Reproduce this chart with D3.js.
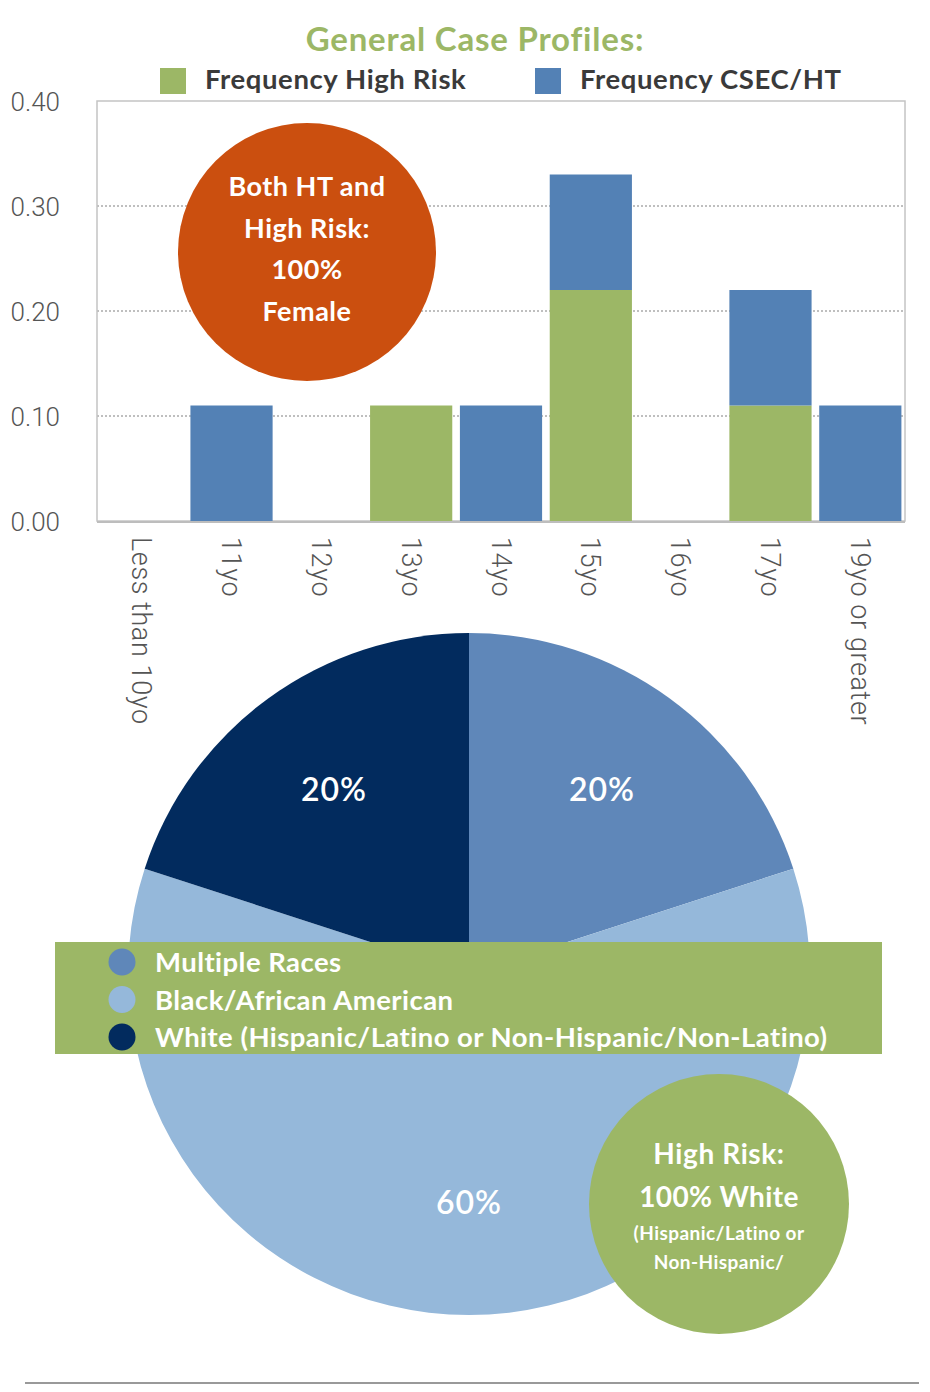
<!DOCTYPE html>
<html>
<head>
<meta charset="utf-8">
<script src="https://cdn.jsdelivr.net/npm/d3@7"></script>
<style>
  body { margin: 0; background: #fff; }
  svg { display: block; }
  .bold { font-family: Lato, "Open Sans", sans-serif; font-weight: 700; }
  .axis text { font-family: Roboto, "Liberation Sans", sans-serif; font-weight: 300; fill: #555; }
</style>
</head>
<body>
<svg width="930" height="1392"></svg>
<script>
// bar chart data
const ages = ['Less than 10yo', '11yo', '12yo', '13yo', '14yo', '15yo', '16yo', '17yo', '19yo or greater'];
const highRisk = [0, 0, 0, 0.11, 0, 0.22, 0, 0.11, 0];
const csecHT = [0, 0.11, 0, 0, 0.11, 0.11, 0, 0.11, 0.11];
const yTicks = [0, 0.1, 0.2, 0.3, 0.4];
const seriesNames = ['Frequency High Risk', 'Frequency CSEC/HT'];

// pie data
const races = ['Multiple Races', 'Black/African American', 'White (Hispanic/Latino or Non-Hispanic/Non-Latino)'];
const raceShare = [20, 60, 20];

const green = '#9cb766', blue = '#5381b5';
const raceColors = ['#5f87b9', '#95b8da', '#022b5e'];

const svg = d3.select('svg');

// title + legend
svg.append('text').attr('class', 'bold')
  .attr('x', 475).attr('y', 51).attr('text-anchor', 'middle')
  .attr('font-size', 33).attr('letter-spacing', 0.8).attr('fill', green)
  .text('General Case Profiles:');

const legX = [160, 535];
seriesNames.forEach((n, i) => {
  svg.append('rect').attr('x', legX[i]).attr('y', 68).attr('width', 26).attr('height', 26)
    .attr('fill', i === 0 ? green : blue);
  svg.append('text').attr('class', 'bold')
    .attr('x', legX[i] + 45).attr('y', 89).attr('font-size', 27.5).attr('letter-spacing', 0.6)
    .attr('fill', '#3a3a3a')
    .text(n);
});

// bar chart
const m = {left: 97, top: 101, right: 905, bottom: 521};
const x = d3.scaleBand().domain(ages).range([m.left, m.right]).paddingInner(0.085).paddingOuter(0.04);
const y = d3.scaleLinear().domain([0, 0.4]).range([m.bottom, m.top]);

// gridlines
svg.append('g').selectAll('line')
  .data(yTicks.slice(1, 4))
  .join('line')
  .attr('x1', m.left).attr('x2', m.right)
  .attr('y1', d => y(d)).attr('y2', d => y(d))
  .attr('stroke', '#aaa').attr('stroke-width', 1.3).attr('stroke-dasharray', '2,2');

svg.append('rect')
  .attr('x', m.left).attr('y', m.top)
  .attr('width', m.right - m.left).attr('height', m.bottom - m.top)
  .attr('fill', 'none').attr('stroke', '#c4c4c4').attr('stroke-width', 1.5);

const rows = ages.map((a, i) => ({age: a, high: highRisk[i], csec: csecHT[i]}));
const stacked = d3.stack().keys(['high', 'csec'])(rows);

svg.append('g').selectAll('g')
  .data(stacked)
  .join('g')
  .attr('fill', (d, i) => i === 0 ? green : blue)
  .selectAll('rect')
  .data(d => d.filter(p => p[1] - p[0] > 0))
  .join('rect')
  .attr('x', d => x(d.data.age))
  .attr('width', x.bandwidth())
  .attr('y', d => y(d[1]))
  .attr('height', d => y(d[0]) - y(d[1]));

svg.append('line')
  .attr('x1', m.left).attr('x2', m.right).attr('y1', m.bottom + 1).attr('y2', m.bottom + 1)
  .attr('stroke', '#bdbdbd').attr('stroke-width', 2);

// y axis
const yAxis = svg.append('g').attr('class', 'axis')
  .attr('transform', `translate(${m.left - 34},0)`)
  .call(d3.axisLeft(y).tickValues(yTicks).tickFormat(d3.format('.2f')).tickSize(0));
yAxis.select('.domain').remove();
yAxis.selectAll('text').attr('font-size', 26).attr('dy', '0.35em').attr('text-anchor', 'end');

// x axis (rotated labels)
const xAxis = svg.append('g').attr('class', 'axis')
  .attr('transform', `translate(0,${m.bottom})`)
  .call(d3.axisBottom(x).tickSize(0));
xAxis.select('.domain').remove();
xAxis.selectAll('text')
  .attr('font-size', 27).attr('letter-spacing', 0.6)
  .attr('transform', 'rotate(90)')
  .attr('x', 16).attr('y', 0).attr('dy', '0.35em')
  .attr('text-anchor', 'start');

// orange callout
const orange = svg.append('g').attr('transform', 'translate(307,252)');
orange.append('circle').attr('r', 129).attr('fill', '#cb4f0f');
['Both HT and', 'High Risk:', '100%', 'Female'].forEach((t, i) => {
  orange.append('text').attr('class', 'bold')
    .attr('y', -56 + i * 41.5).attr('text-anchor', 'middle')
    .attr('font-size', 27).attr('letter-spacing', 0.5).attr('fill', '#fff').text(t);
});

// pie
const cx = 469, cy = 974, R = 341;
const pie = d3.pie().sort(null).value(d => d.v);
const arc = d3.arc().innerRadius(0).outerRadius(R);
const pieData = pie(races.map((r, i) => ({r, v: raceShare[i], c: raceColors[i]})));
const pg = svg.append('g').attr('transform', `translate(${cx},${cy})`);
pg.selectAll('path').data(pieData).join('path')
  .attr('d', arc).attr('fill', d => d.data.c);

const labelPos = [[133, -173], [0, 240], [-135, -173]];
pg.selectAll('text.pct').data(pieData).join('text')
  .attr('class', 'pct')
  .attr('x', (d, i) => labelPos[i][0]).attr('y', (d, i) => labelPos[i][1])
  .attr('text-anchor', 'middle')
  .attr('font-family', 'Lato, sans-serif').attr('font-weight', 600)
  .attr('font-size', 32).attr('letter-spacing', 1).attr('fill', '#fff')
  .text(d => d.data.v + '%');

// legend band
svg.append('rect').attr('x', 55).attr('y', 942).attr('width', 827).attr('height', 112).attr('fill', green);
races.forEach((r, i) => {
  svg.append('circle').attr('cx', 122).attr('cy', 962 + i * 37.5).attr('r', 13.5).attr('fill', raceColors[i]);
  svg.append('text').attr('class', 'bold')
    .attr('x', 155).attr('y', 972 + i * 37.5).attr('font-size', 27.5).attr('letter-spacing', 0.45)
    .attr('fill', '#fff').text(r);
});

// green callout
const gc = svg.append('g').attr('transform', 'translate(719,1204)');
gc.append('circle').attr('r', 130).attr('fill', green);
[['High Risk:', -40, 28, 0.6], ['100% White', 3, 28, 0.4], ['(Hispanic/Latino or', 36, 19, 0.45], ['Non-Hispanic/', 65, 19, 0.45]]
  .forEach(([t, yy, fs, ls]) => {
    gc.append('text').attr('class', 'bold')
      .attr('y', yy).attr('text-anchor', 'middle')
      .attr('font-size', fs).attr('letter-spacing', ls).attr('fill', '#fff').text(t);
  });

// bottom rule
svg.append('line').attr('x1', 25).attr('x2', 919).attr('y1', 1383).attr('y2', 1383)
  .attr('stroke', '#999').attr('stroke-width', 2);
</script>
</body>
</html>
